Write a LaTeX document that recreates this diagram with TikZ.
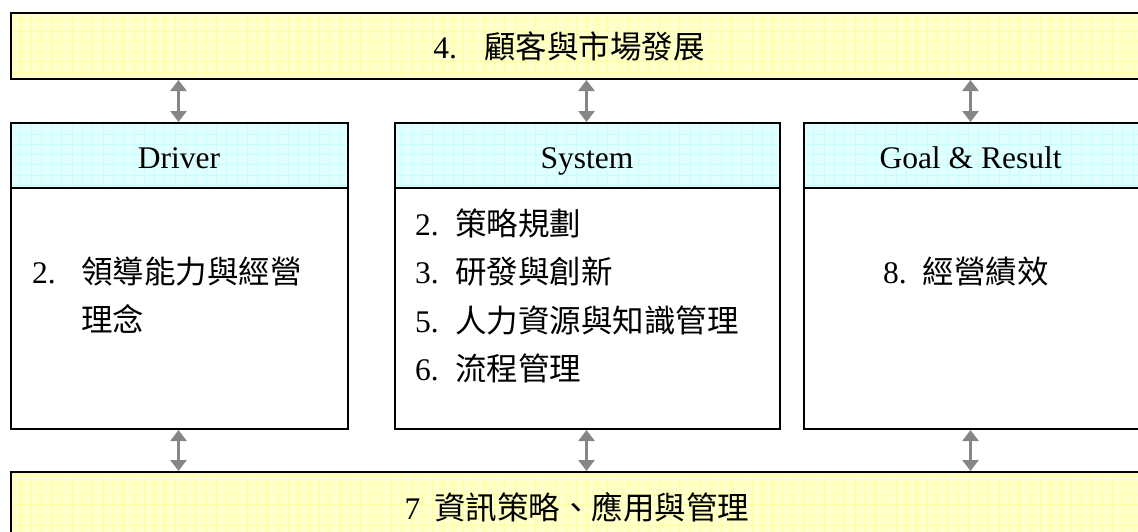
\documentclass[tikz,border=0pt]{standalone}
\usepackage{fontspec}
\setmainfont{Liberation Serif}
\newfontfamily\cjk{Noto Sans CJK TC}
\usetikzlibrary{arrows.meta}
\definecolor{yfill}{HTML}{FFFFCC}
\definecolor{yline}{HTML}{FFFF9C}
\definecolor{cfill}{HTML}{E2FFFF}
\definecolor{cline}{HTML}{C4FFFF}
\definecolor{arrowgray}{HTML}{868686}
\newcommand{\gridbox}[6]{%
  \fill[#1] (#3,#4) rectangle (#5,#6);
  \begin{scope}
    \clip (#3,#4) rectangle (#5,#6);
    \foreach \gx in {0,10.3,...,1150} \draw[#2,line width=0.8pt] (\gx,#4) -- (\gx,#6);
    \foreach \gy in {0,10.3,...,545} \draw[#2,line width=0.8pt] (#3,\gy) -- (#5,\gy);
  \end{scope}}
\tikzset{
  frame/.style={draw=black, line width=2pt, rectangle, inner sep=0pt, anchor=north west},
  txt/.style={inner sep=0pt, font=\fontsize{31.5}{38}\selectfont, anchor=base west},
  ctxt/.style={inner sep=0pt, font=\fontsize{31.5}{38}\selectfont, anchor=base},
  biarrow/.style={draw=arrowgray, line width=3pt,
    {Triangle[width=16pt,length=11pt]}-{Triangle[width=16pt,length=11pt]}}
}
\begin{document}
\begin{tikzpicture}[x=1pt,y=-1pt]
\useasboundingbox (0,0) rectangle (1138,531);
\clip (0,0) rectangle (1138,531);
% fills
\gridbox{yfill}{yline}{10}{12}{1150}{78}
\gridbox{cfill}{cline}{10}{122}{347}{187}
\gridbox{cfill}{cline}{394}{122}{779}{187}
\gridbox{cfill}{cline}{803}{122}{1150}{187}
\gridbox{yfill}{yline}{10}{471}{1150}{545}
% frames
\node[frame, minimum width=1140pt, minimum height=66pt] (top) at (10,12) {};
\node[frame, minimum width=337pt, minimum height=65pt] (drvh) at (10,122) {};
\node[frame, minimum width=337pt, minimum height=241pt] (drvb) at (10,187) {};
\node[frame, minimum width=385pt, minimum height=65pt] (sysh) at (394,122) {};
\node[frame, minimum width=385pt, minimum height=241pt] (sysb) at (394,187) {};
\node[frame, minimum width=345pt, minimum height=65pt] (goalh) at (803,122) {};
\node[frame, minimum width=345pt, minimum height=241pt] (goalb) at (803,187) {};
\node[frame, minimum width=1140pt, minimum height=74pt] (bot) at (10,471) {};
% arrows
\coordinate (a1) at (178.5,0);
\coordinate (a2) at (586.5,0);
\coordinate (a3) at (970.5,0);
\draw[biarrow] (top.south -| a1) -- (drvh.north -| a1);
\draw[biarrow] (top.south -| a2) -- (sysh.north -| a2);
\draw[biarrow] (top.south -| a3) -- (goalh.north -| a3);
\draw[biarrow] (drvb.south -| a1) -- (bot.north -| a1);
\draw[biarrow] (sysb.south -| a2) -- (bot.north -| a2);
\draw[biarrow] (goalb.south -| a3) -- (bot.north -| a3);
% texts
\node[ctxt] (toptxt) at (569,58) {4.\hspace{27pt}{\cjk 顧客與市場發展}};
\node[ctxt] (drvtxt) at (179,168) {Driver};
\node[ctxt] (systxt) at (587,168) {System};
\node[ctxt] (goaltxt) at (970.5,168) {Goal \& Result};
\node[txt] (d1n) at (32,283) {2.};
\node[txt] (d1t) at (81,283) {\cjk 領導能力與經營};
\node[txt] (d2t) at (81,331) {\cjk 理念};
\node[txt] (s1n) at (415,235) {2.};
\node[txt] (s1t) at (455,235) {\cjk 策略規劃};
\node[txt] (s2n) at (415,283) {3.};
\node[txt] (s2t) at (455,283) {\cjk 研發與創新};
\node[txt] (s3n) at (415,332) {5.};
\node[txt] (s3t) at (455,332) {\cjk 人力資源與知識管理};
\node[txt] (s4n) at (415,380) {6.};
\node[txt] (s4t) at (455,380) {\cjk 流程管理};
\node[ctxt] (gtxt) at (966,283) {8.\hspace{16pt}{\cjk 經營績效}};
\node[ctxt] (bottxt) at (577,519) {7\hspace{14pt}{\cjk 資訊策略、應用與管理}};
\end{tikzpicture}
\end{document}
